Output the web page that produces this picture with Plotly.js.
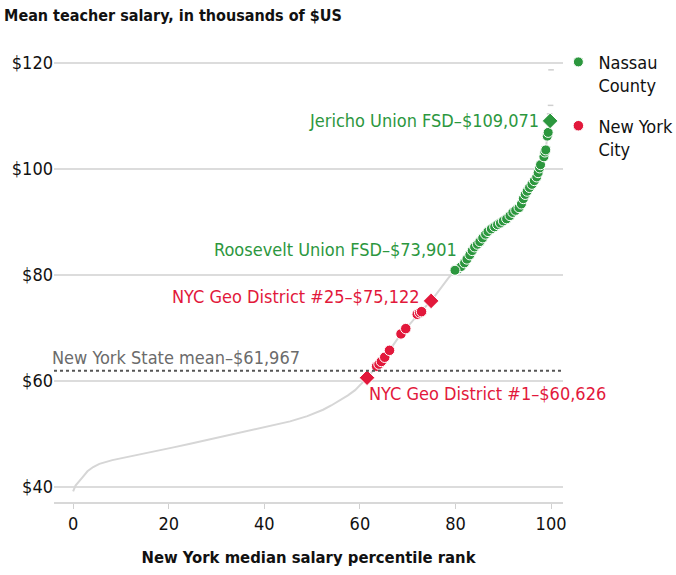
<!DOCTYPE html>
<html>
<head>
<meta charset="utf-8">
<script src="https://cdn.plot.ly/plotly-3.0.1.min.js"></script>
<style>html,body{margin:0;padding:0;background:#fff;}#chart{width:676px;height:575px;}</style>
</head>
<body>
<div id="chart"></div>
<script>
// All New York districts (percentile rank, mean salary in $k)
const allRank = [0, 0.5, 2, 3, 4.2, 5.5, 8.2, 11, 14, 17.5, 21, 24.5, 28, 31.5, 35, 38.5, 42, 45.4, 49, 52.3, 54, 55.9, 57.5, 59, 60.3, 61.5, 63.5, 65.2, 66.2, 68.6, 70.5, 72.5, 74.9, 76.8, 78.5, 79.9, 81.9, 83.5, 85.1, 86.8, 88.8, 90.7, 92.6, 93.8, 94.6, 95.5, 96.5, 97.3, 97.8, 98.5, 98.9, 99.2, 99.5];
const allSalary = [39.2, 40.3, 41.9, 43.0, 43.8, 44.4, 45.1, 45.6, 46.2, 46.8, 47.5, 48.2, 48.9, 49.6, 50.4, 51.0, 51.7, 52.4, 53.4, 54.6, 55.4, 56.4, 57.3, 58.3, 59.4, 60.6, 62.8, 64.5, 65.8, 68.9, 70.8, 72.9, 75.1, 77.4, 79.4, 80.9, 82.3, 84.6, 86.3, 88.2, 89.5, 90.6, 92.2, 93.4, 95.2, 96.5, 97.8, 99.3, 100.8, 102.3, 103.6, 106.2, 107.5];
// Top outliers (drawn as isolated ticks)
const topRank = [99.7, 99.9, 100];
const topSalary = [110.4, 112.0, 118.7];

// Nassau County districts
const nassauRank = [79.9, 80.6, 81.2, 81.9, 82.4, 83.0, 83.5, 84.0, 84.6, 85.1, 85.7, 86.3, 86.8, 87.5, 88.2, 88.8, 89.4, 90.0, 90.7, 91.4, 92.0, 92.6, 93.3, 93.8, 94.2, 94.6, 95.0, 95.5, 96.0, 96.5, 97.0, 97.3, 97.6, 97.8, 98.5, 98.7, 98.9, 99.2, 99.4];
const nassauSalary = [80.9, 81.2, 81.6, 82.3, 83.0, 83.8, 84.6, 85.3, 85.8, 86.3, 87.0, 87.7, 88.2, 88.7, 89.1, 89.5, 89.8, 90.2, 90.6, 91.2, 91.8, 92.2, 92.7, 93.4, 94.4, 95.2, 95.8, 96.5, 97.1, 97.8, 98.5, 99.3, 100.2, 100.8, 102.3, 103.2, 103.6, 106.2, 106.9];

// New York City geo districts
const nycRank = [63.5, 64.0, 64.5, 65.2, 66.2, 68.6, 69.6, 72.0, 72.5, 72.9];
const nycSalary = [62.8, 63.2, 63.7, 64.5, 65.8, 68.9, 69.9, 72.6, 72.9, 73.1];

// Labelled districts
const highlightNames = ["Jericho Union FSD–$109,071", "Roosevelt Union FSD–$73,901", "NYC Geo District #25–$75,122", "NYC Geo District #1–$60,626"];
const highlightRank = [99.8, 79.9, 74.9, 61.5];
const highlightSalary = [109.071, 80.9, 75.122, 60.626];

const stateMean = 61.967;
const stateMeanLabel = "New York State mean–$61,967";

const yTicks = [40, 60, 80, 100, 120];
const yTickText = yTicks.map(v => "$" + v);
const xTicks = [0, 20, 40, 60, 80, 100];

const GREEN = "#2c973e";
const RED = "#e2183b";
const FONT = "DejaVu Sans Condensed, Roboto, sans-serif";

const traces = [
  {x: allRank, y: allSalary, mode: "lines", line: {color: "#d6d6d6", width: 2}, showlegend: false, hoverinfo: "skip"},
  {x: topRank, y: topSalary, mode: "markers", marker: {symbol: "line-ew", size: 4, line: {color: "#cfcfcf", width: 1.5}}, showlegend: false},
  {x: nassauRank, y: nassauSalary, mode: "markers", name: "Nassau<br>County", legendgroup: "a",
   marker: {color: GREEN, size: 10, line: {color: "#fff", width: 1}}},
  {x: nycRank, y: nycSalary, mode: "markers", name: "New York<br>City", legendgroup: "b",
   marker: {color: RED, size: 10.5, line: {color: "#fff", width: 1}}},
  {x: [highlightRank[0]], y: [highlightSalary[0]], mode: "markers", showlegend: false,
   marker: {color: GREEN, symbol: "diamond", size: 12, line: {color: "#fff", width: 1}}},
  {x: [highlightRank[1]], y: [highlightSalary[1]], mode: "markers", showlegend: false,
   marker: {color: GREEN, size: 10, line: {color: "#fff", width: 1}}},
  {x: [highlightRank[2], highlightRank[3]], y: [highlightSalary[2], highlightSalary[3]], mode: "markers", showlegend: false,
   marker: {color: RED, symbol: "diamond", size: 12, line: {color: "#fff", width: 1}}}
];

const annFont = {family: FONT, size: 18};
const layout = {
  width: 676, height: 575,
  margin: {l: 54, r: 113, t: 55, b: 73, autoexpand: false},
  paper_bgcolor: "#fff", plot_bgcolor: "#fff",
  font: {family: FONT, size: 18, color: "#111"},
  title: {text: "<b>Mean teacher salary, in thousands of $US</b>", x: 0.006, xanchor: "left", y: 0.974, yanchor: "middle",
          font: {family: FONT, size: 16, color: "#111"}},
  xaxis: {range: [-4, 102.5], tickvals: xTicks, showgrid: false, zeroline: false,
          showline: true, linecolor: "#d8d8d8", linewidth: 1.5, ticks: "outside", ticklen: 5, tickcolor: "#d0d0d0",
          tickfont: {size: 18}, title: {text: "<b>New York median salary percentile rank</b>", standoff: 18, font: {size: 16.5}}},
  yaxis: {range: [37.2, 121.5], tickvals: yTicks, ticktext: yTickText, showgrid: true, gridcolor: "#dcdcdc", gridwidth: 1.5,
          zeroline: false, showline: false, ticks: "", tickfont: {size: 18}},
  legend: {xref: "container", yref: "container", x: 0.826, xanchor: "left", y: 0.924, yanchor: "top",
           traceorder: "grouped", tracegroupgap: 14,
           valign: "top", font: {size: 18}, itemwidth: 30, bgcolor: "rgba(0,0,0,0)"},
  shapes: [{type: "line", xref: "paper", x0: 0, x1: 1, yref: "y", y0: stateMean, y1: stateMean,
            line: {color: "#555", width: 2, dash: "dot"}}],
  annotations: [
    {x: highlightRank[0], y: highlightSalary[0], text: highlightNames[0], showarrow: false, xanchor: "right", yanchor: "middle", xshift: -9, font: Object.assign({color: GREEN}, annFont)},
    {x: highlightRank[1], y: highlightSalary[1], text: highlightNames[1], showarrow: false, xanchor: "right", yanchor: "bottom", xshift: 4, yshift: 8, font: Object.assign({color: GREEN}, annFont)},
    {x: highlightRank[2], y: highlightSalary[2], text: highlightNames[2], showarrow: false, xanchor: "right", yanchor: "middle", xshift: -9, yshift: 4, font: Object.assign({color: RED}, annFont)},
    {x: highlightRank[3], y: highlightSalary[3], text: highlightNames[3], showarrow: false, xanchor: "left", yanchor: "top", xshift: 0, yshift: -3, font: Object.assign({color: RED}, annFont)},
    {xref: "paper", x: 0, y: stateMean, text: stateMeanLabel, showarrow: false, xanchor: "left", yanchor: "bottom", xshift: -4, yshift: 1, font: Object.assign({color: "#6b6b6b"}, annFont)}
  ]
};

Plotly.newPlot("chart", traces, layout, {displayModeBar: false, staticPlot: true});
</script>
</body>
</html>
